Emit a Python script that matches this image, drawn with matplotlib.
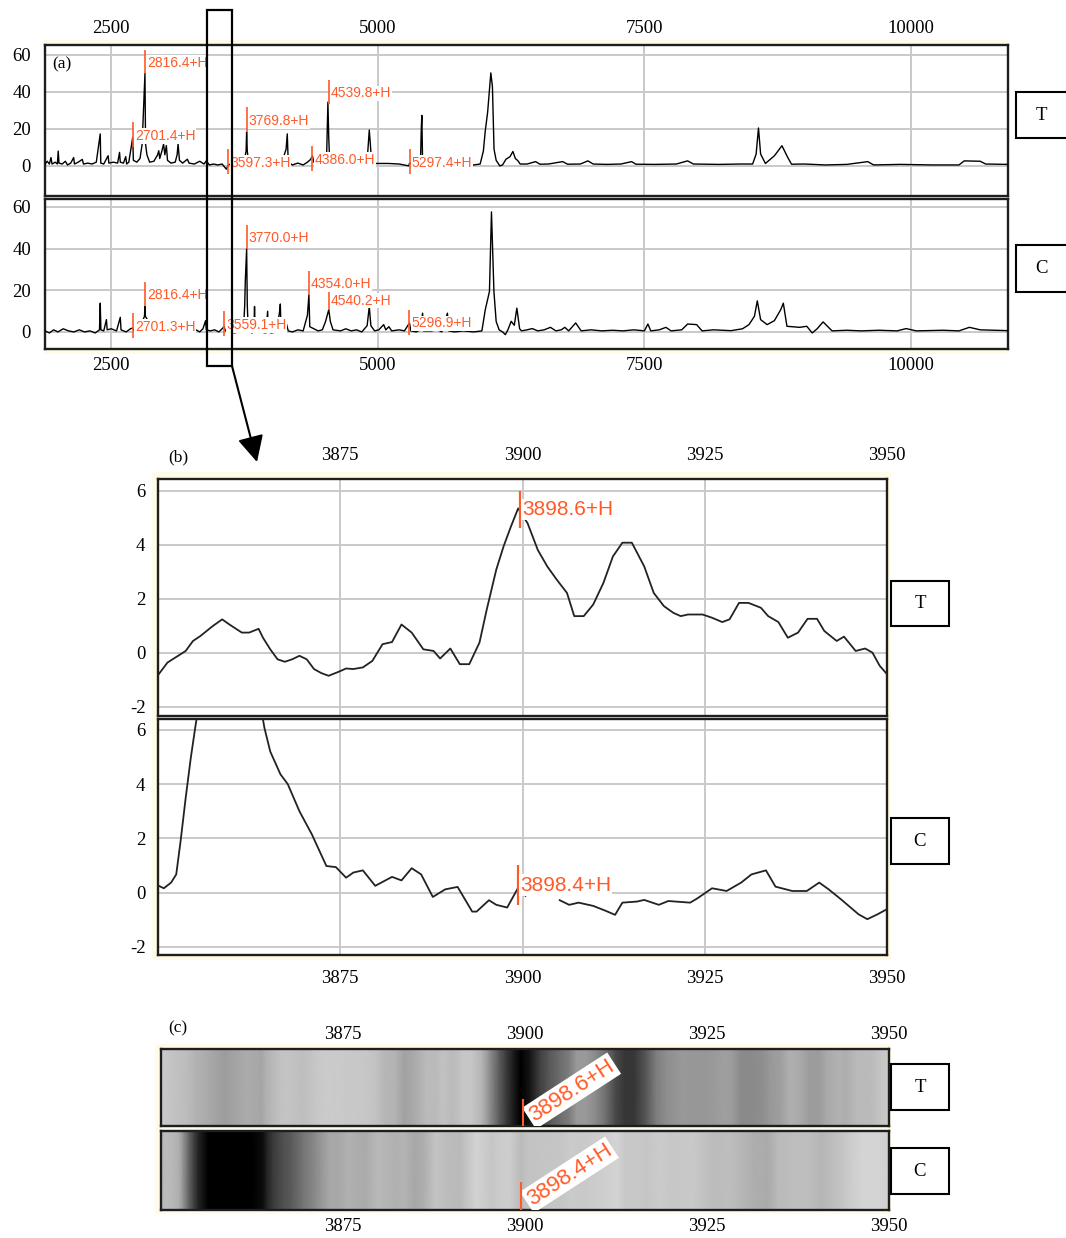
import numpy as np
import matplotlib
matplotlib.use("Agg")
import matplotlib.pyplot as plt
from matplotlib.patches import Rectangle
from matplotlib.colors import LinearSegmentedColormap, PowerNorm

# ---------------- data ----------------
# (a) full spectra, T and C
a_T_mz = [1879, 1900, 1920, 1935, 1945, 1975, 1995, 2003, 2010, 2040, 2070, 2090, 2120, 2148, 2155,
          2190, 2229, 2240, 2280, 2320, 2360, 2397, 2402, 2430, 2471, 2478, 2520, 2560, 2578, 2585,
          2615, 2636, 2645, 2665, 2701.4, 2708, 2740, 2770, 2790, 2812, 2816.4, 2822, 2835, 2860,
          2900, 2935, 2946, 2955, 2975, 2991, 3003, 3017, 3028, 3060, 3100, 3118, 3127, 3140, 3170,
          3214, 3230, 3280, 3330, 3370, 3392, 3420, 3460, 3500, 3540, 3580, 3597.3, 3620, 3660, 3700,
          3740, 3765, 3769.8, 3776, 3790, 3830, 3870, 3898.6, 3920, 3960, 4000, 4060, 4100, 4140,
          4151, 4160, 4200, 4250, 4300, 4340, 4370, 4386, 4400, 4450, 4500, 4520, 4532, 4540, 4548,
          4600, 4650, 4700, 4760, 4800, 4850, 4900, 4920, 4930, 4940, 4960, 5100, 5200, 5291, 5297.4,
          5320, 5360, 5400, 5408, 5413, 5420, 5480, 5550, 5650, 5750, 5900, 5960, 5990, 6008, 6030,
          6060, 6075, 6090, 6110, 6144, 6170, 6202, 6240, 6267, 6290, 6315, 6335, 6400, 6480, 6520,
          6600, 6733, 6780, 6900, 6970, 7020, 7150, 7280, 7380, 7420, 7600, 7800, 7905, 7960, 8200,
          8400, 8515, 8548, 8570, 8590, 8635, 8720, 8790, 8845, 8880, 9000, 9200, 9400, 9595, 9650,
          9900, 10200, 10450, 10500, 10650, 10700, 10910]
a_T_int = [1.0, 2.5, 1.0, 4.5, 1.0, 2.0, 1.0, 8.0, 1.5, 1.0, 2.5, 0.5, 1.5, 4.5, 1.0,
           2.0, 3.5, 1.0, 1.5, 1.0, 2.0, 17.3, 1.5, 1.0, 5.5, 1.5, 2.0, 1.5, 7.3, 2.0,
           1.5, 5.0, 1.0, 2.0, 15.4, 3.0, 2.0, 4.0, 11.8, 42.7, 50.0, 11.8, 6.0, 2.0,
           2.5, 6.0, 8.2, 4.0, 8.0, 11.8, 6.0, 11.0, 3.0, 1.5, 2.0, 6.0, 11.8, 3.0, 1.5,
           3.6, 1.5, 1.0, 2.5, 1.0, 2.7, 0.5, 1.0, 0.5, 1.0, -1.8, 0.5, 1.0, 0.5, 1.5,
           1.0, 8.0, 18.2, 8.0, 1.0, 1.5, 1.0, 5.3, 1.5, 1.0, 1.5, 1.0, 2.0, 9.0,
           17.3, 2.0, 0.5, 1.5, 0.5, 2.0, 3.5, 5.5, 2.0, 1.5, 4.0, 5.0, 34.5, 15.4, 3.0,
           2.5, 1.5, 2.0, 1.0, 1.5, 2.0, 2.5, 19.4, 12.0, 3.0, 1.3, 1.3, 1.0, 0.0, 1.5,
           1.0, 1.5, 2.0, 20.5, 27.3, 2.0, 1.0, 1.0, 0.5, 0.5, 0.5, 1.0, 8.0, 19.0, 29.0,
           50.3, 42.7, 9.0, 3.0, 0.0, 0.5, 3.6, 5.0, 7.8, 4.0, 2.7, 1.0, 1.0, 2.3, 0.9,
           1.0, 2.3, 0.9, 1.0, 2.7, 1.0, 0.8, 1.0, 2.3, 0.9, 0.8, 1.0, 2.7, 1.0, 0.8,
           1.0, 1.0, 6.4, 20.5, 6.4, 1.3, 5.5, 10.9, 4.5, 0.9, 1.0, 0.5, 0.8, 2.3, 0.5,
           0.8, 0.5, 0.5, 2.7, 2.5, 1.0, 0.8]

a_C_mz = [1879, 1920, 1960, 2000, 2050, 2100, 2150, 2200, 2250, 2300, 2350, 2390, 2397, 2403, 2430,
          2455, 2462, 2500, 2550, 2585, 2592, 2640, 2680, 2701.3, 2714, 2760, 2812, 2816, 2820,
          2900, 3000, 3100, 3200, 3295, 3330, 3360, 3385, 3392, 3430, 3470, 3510, 3540, 3559.1,
          3570, 3600, 3650, 3700, 3740, 3752, 3757, 3770.0, 3776, 3785, 3820, 3838, 3844, 3850,
          3900, 3950, 3967, 3972, 4000, 4050, 4080, 4086, 4092, 4141, 4160, 4200, 4250, 4300, 4340,
          4354.0, 4362, 4400, 4440, 4480, 4510, 4540.2, 4555, 4580, 4650, 4700, 4750, 4800, 4850,
          4900, 4920, 4935, 4970, 5010, 5055, 5075, 5104, 5130, 5200, 5250, 5296.9, 5310, 5360,
          5400, 5420, 5430, 5500, 5560, 5600, 5653, 5665, 5720, 5800, 5900, 5976, 6008, 6047, 6066,
          6089, 6110, 6138, 6170, 6196, 6220, 6251, 6280, 6304, 6330, 6348, 6400, 6449, 6500, 6560,
          6619, 6670, 6720, 6754, 6790, 6856, 6907, 7000, 7100, 7200, 7300, 7400, 7500, 7533, 7560,
          7640, 7702, 7750, 7850, 7906, 7990, 8041, 8150, 8312, 8420, 8481, 8532, 8559, 8590, 8651,
          8719, 8779, 8803, 8837, 8956, 9023, 9074, 9120, 9176, 9260, 9400, 9532, 9700, 9870, 9955,
          10050, 10300, 10450, 10548, 10650, 10913]
a_C_int = [0.5, -0.5, 1.0, 0.0, 1.5, 0.5, 0.0, 1.0, 0.0, 0.5, -0.5, 1.0, 13.8, 1.0, 0.5,
           5.9, 1.0, 1.5, 0.5, 7.0, 1.0, 0.0, 1.5, 1.9, 0.5, 1.0, 7.5, 12.2, 7.5,
           1.0, 0.5, 1.0, 0.5, 1.0, 0.0, 1.5, 5.4, 1.0, 0.5, 1.0, 0.0, 1.5, 2.5,
           0.5, 1.0, -0.5, 0.0, 0.5, 13.0, 23.8, 40.0, 13.0, 0.5, -0.5, 0.5, 12.2, 0.5,
           0.0, -0.5, 9.9, 0.0, -0.5, 0.0, 10.0, 13.4, 0.5, 4.3, 0.5, 0.0, 1.0, 0.5, 8.0,
           17.8, 2.5, 1.5, 0.5, 1.0, 5.0, 10.7, 5.0, 1.0, 0.5, 1.5, 0.5, 1.0, 0.0,
           3.0, 12.2, 3.0, 0.5, 1.0, 3.5, 1.0, 2.5, 0.5, 1.0, 0.5, 4.3, 0.5, 0.0,
           1.0, 9.0, 0.5, 0.5, 1.0, 0.0, 9.0, 0.5, 0.0, 0.5, 0.0, 0.5, 10.7, 19.4, 57.6,
           19.4, 5.0, 1.0, 0.0, -1.3, 1.0, 5.1, 3.2, 11.4, 1.5, 0.5, 1.0, 1.6, 0.5, 1.0,
           2.2, 0.5, 1.0, 2.2, 0.5, 4.3, 0.5, 1.0, 0.5, 0.8, 0.5, 1.0, 0.5, 3.8, 0.5,
           1.0, 2.2, 0.5, 1.0, 3.8, 3.5, 0.5, 1.0, 0.6, 1.5, 3.5, 7.5, 14.9, 5.9, 3.5,
           5.4, 10.7, 13.8, 2.7, 2.2, 2.7, -0.5, 1.5, 4.8, 0.5, 0.8, 0.5, 0.8, 0.5, 1.6,
           0.5, 0.8, 0.5, 2.2, 1.0, 0.6]

a_T_peaks = [2701.4, 2816.4, 3597.3, 3769.8, 4386.0, 4539.8, 5297.4]
a_T_peak_lo = [10.0, 50.0, -4.2, 18.2, -2.7, 33.6, -4.5]
a_T_peak_hi = [23.6, 62.7, 9.1, 31.8, 10.9, 46.3, 9.1]
a_C_peaks = [2701.3, 2816.4, 3559.1, 3770.0, 4354.0, 4540.2, 5296.9]
a_C_peak_lo = [-2.9, 12.2, -2.0, 40.0, 17.8, 10.7, -1.3]
a_C_peak_hi = [9.1, 24.2, 9.9, 51.5, 29.3, 20.2, 10.7]

# (b) zoom 3850-3950
b_T_mz = [3850.1, 3851.3, 3853.8, 3854.8, 3855.8, 3857.5, 3858.8, 3859.8, 3861.5, 3862.5, 3863.8,
          3864.4, 3865.4, 3866.4, 3867.4, 3868.4, 3869.4, 3870.4, 3871.4, 3872.4, 3873.4, 3874.8,
          3875.8, 3876.8, 3878.1, 3879.4, 3880.8, 3882.1, 3883.4, 3884.8, 3886.4, 3887.8, 3888.7,
          3890.1, 3891.4, 3892.7, 3894.1, 3895.1, 3896.4, 3897.4, 3898.4, 3899.4, 3900.7, 3902.1,
          3903.4, 3904.7, 3906.1, 3907.1, 3908.4, 3909.7, 3911.1, 3912.4, 3913.7, 3915.0, 3916.7,
          3918.0, 3919.4, 3920.7, 3921.7, 3922.7, 3924.7, 3926.0, 3927.4, 3928.4, 3929.7, 3931.0,
          3932.7, 3933.7, 3935.1, 3936.4, 3937.8, 3939.1, 3940.4, 3941.4, 3943.1, 3944.1, 3945.7,
          3947.0, 3948.0, 3949.0, 3950.0]
b_T_int = [-0.80, -0.37, 0.06, 0.43, 0.61, 0.98, 1.23, 1.04, 0.74, 0.74, 0.88,
           0.55, 0.12, -0.25, -0.34, -0.25, -0.12, -0.25, -0.61, -0.76, -0.86, -0.71,
           -0.59, -0.61, -0.55, -0.31, 0.31, 0.39, 1.04, 0.74, 0.12, 0.06, -0.22,
           0.15, -0.43, -0.43, 0.37, 1.60, 3.07, 3.93, 4.66, 5.34, 4.79, 3.80,
           3.19, 2.70, 2.21, 1.35, 1.35, 1.78, 2.58, 3.56, 4.07, 4.07, 3.19,
           2.21, 1.72, 1.47, 1.35, 1.41, 1.41, 1.29, 1.13, 1.23, 1.84, 1.84,
           1.66, 1.35, 1.13, 0.55, 0.74, 1.25, 1.25, 0.80, 0.43, 0.59, 0.06,
           0.15, 0.00, -0.49, -0.80]

b_C_mz = [3850.1, 3850.8, 3851.8, 3852.5, 3853.1, 3853.8, 3854.5, 3855.1, 3856.5, 3858.5, 3860.5,
          3862.5, 3864.0, 3864.6, 3865.4, 3866.8, 3867.8, 3869.4, 3871.1, 3873.1, 3874.4, 3875.8,
          3876.8, 3878.1, 3879.8, 3882.1, 3883.4, 3884.8, 3886.1, 3887.7, 3889.4, 3891.1, 3893.1,
          3893.7, 3895.4, 3896.4, 3897.9, 3899.4, 3900.4, 3902.5, 3905.1, 3906.4, 3907.7, 3909.7,
          3911.4, 3912.7, 3913.7, 3915.7, 3916.7, 3918.7, 3920.0, 3923.0, 3924.0, 3926.0, 3928.0,
          3930.0, 3931.4, 3933.4, 3934.7, 3937.0, 3939.0, 3940.7, 3942.0, 3943.7, 3946.1, 3947.3,
          3948.7, 3950.0]
b_C_int = [0.25, 0.16, 0.37, 0.67, 1.90, 3.50, 4.97, 6.07, 8.5, 10.5, 11.0,
           9.5, 7.0, 6.07, 5.20, 4.36, 4.00, 3.00, 2.15, 0.98, 0.94, 0.55,
           0.74, 0.82, 0.25, 0.58, 0.45, 0.90, 0.67, -0.16, 0.12, 0.21, -0.70,
           -0.70, -0.28, -0.45, -0.55, 0.18, -0.12, np.nan, -0.28, -0.45, -0.37, -0.49,
           -0.67, -0.82, -0.37, -0.33, -0.27, -0.45, -0.31, -0.37, -0.21, 0.16, 0.06,
           0.37, 0.67, 0.82, 0.22, 0.06, 0.06, 0.37, 0.12, -0.25, -0.80, -0.98,
           -0.80, -0.61]

# labelled peaks of (b)/(c): label value, where the marker is drawn, marker extent
b_T_peak, b_T_mark, b_T_peak_lo, b_T_peak_hi = 3898.6, 3899.7, 4.6, 6.0
b_C_peak, b_C_mark, b_C_peak_lo, b_C_peak_hi = 3898.4, 3899.4, -0.44, 1.0

a_xticks = [2500, 5000, 7500, 10000]
a_yticks = [0, 20, 40, 60]
b_xticks = [3875, 3900, 3925, 3950]
b_yticks = [-2, 0, 2, 4, 6]

# ---------------- style ----------------
W, H = 1066, 1238
SERIF = 'Liberation Serif'
SANS = 'Liberation Sans'
ORANGE = '#ff5a28'
GRID = '#c9c9c9'
CREAM = '#fffbe6'
SPINE = '#1e1e1e'
plt.rcParams['font.family'] = SERIF
plt.rcParams['axes.unicode_minus'] = False

fig = plt.figure(figsize=(W / 100, H / 100), dpi=100)


def rect(l, t, r, b):
    return [l / W, 1 - b / H, (r - l) / W, (b - t) / H]


# background (cream frames)
bg = fig.add_axes([0, 0, 1, 1], zorder=0)
bg.set_xlim(0, W)
bg.set_ylim(H, 0)
bg.axis('off')
for (l, t, r, b) in [(44, 40, 1009, 354), (152, 472, 891, 960), (155, 1044, 891, 1214)]:
    bg.add_patch(Rectangle((l, t), r - l, b - t, fc=CREAM, ec='none'))


def style_axes(ax, xlim, ylim, xticks, yticks, top, xpad, ypad, grid=True):
    ax.set_xlim(xlim)
    ax.set_ylim(ylim)
    ax.set_xticks(xticks)
    ax.set_yticks(yticks)
    if grid:
        ax.grid(True, color=GRID, lw=1.4)
        ax.set_axisbelow(True)
    for s in ax.spines.values():
        s.set_color(SPINE)
        s.set_linewidth(1.7)
    ax.tick_params(length=0, labelsize=13.5)
    ax.tick_params(axis='x', labeltop=top, labelbottom=not top, top=False, bottom=False, pad=xpad)
    ax.tick_params(axis='y', pad=ypad)


def peak_marks(ax, mz, marks, lo, hi, fs, lw, frac):
    ax.vlines(marks, lo, hi, color=ORANGE, lw=lw, zorder=4)
    for m, x, l, h in zip(mz, marks, lo, hi):
        ax.annotate(f"{m:.1f}+H", xy=(x, l + frac * (h - l)), xytext=(1.5, 0),
                    textcoords='offset points', ha='left', va='center', color=ORANGE,
                    fontsize=fs, family=SANS, zorder=5,
                    bbox=dict(boxstyle='square,pad=0.05', fc='white', ec='none'))


# ---------------- (a) ----------------
axaT = fig.add_axes(rect(45, 45, 1008, 196), zorder=1)
style_axes(axaT, (1879, 10910), (-16.3, 65.4), a_xticks, a_yticks, True, 6, 10)
axaT.plot(a_T_mz, a_T_int, color='black', lw=1.0, zorder=3)
peak_marks(axaT, a_T_peaks, a_T_peaks, a_T_peak_lo, a_T_peak_hi, 10, 1.2, 0.45)

axaC = fig.add_axes(rect(45, 199, 1008, 349), zorder=1)
style_axes(axaC, (1879, 10910), (-8.2, 63.8), a_xticks, a_yticks, False, 6, 10)
axaC.plot(a_C_mz, a_C_int, color='black', lw=1.0, zorder=3)
peak_marks(axaC, a_C_peaks, a_C_peaks, a_C_peak_lo, a_C_peak_hi, 10, 1.2, 0.45)

# ---------------- (b) ----------------
axbT = fig.add_axes(rect(158, 479, 887, 716), zorder=1)
style_axes(axbT, (3850, 3950), (-2.35, 6.43), b_xticks, b_yticks, True, 11, 9)
axbT.plot(b_T_mz, b_T_int, color='#222222', lw=1.3, zorder=3)
peak_marks(axbT, [b_T_peak], [b_T_mark], [b_T_peak_lo], [b_T_peak_hi], 15, 1.6, 0.5)

axbC = fig.add_axes(rect(158, 719, 887, 955), zorder=1)
style_axes(axbC, (3850, 3950), (-2.3, 6.4), b_xticks, b_yticks, False, 11, 9)
axbC.plot(b_C_mz, b_C_int, color='#222222', lw=1.3, zorder=3)
peak_marks(axbC, [b_C_peak], [b_C_mark], [b_C_peak_lo], [b_C_peak_hi], 15, 1.6, 0.5)

# ---------------- (c) gel view ----------------


def gel(ax, mz, vals, cmap, norm, mark, label, top, pad):
    mz = np.asarray(mz, float)
    vals = np.asarray(vals, float)
    ok = ~np.isnan(vals)
    ax.pcolormesh(mz[ok], [0, 1], np.vstack([vals[ok], vals[ok]]), shading='gouraud',
                  cmap=cmap, norm=norm, zorder=1)
    style_axes(ax, (3850, 3950), (0, 1), b_xticks, [], top, pad, 0, grid=False)
    ax.vlines(mark, 0, 0.35, color=ORANGE, lw=1.5, zorder=6)
    ax.text(mark + 1.9, 0.0, label, rotation=33, rotation_mode='anchor', ha='left',
            va='bottom', color=ORANGE, fontsize=16, family=SANS, zorder=5, clip_on=True,
            bbox=dict(boxstyle='square,pad=0.1', fc='white', ec='none'))


gel_T = LinearSegmentedColormap.from_list('gelT', [(0.80, 0.80, 0.80), (0, 0, 0)])
gel_C = LinearSegmentedColormap.from_list('gelC', [(0.83, 0.83, 0.83), (0, 0, 0)])

axcT = fig.add_axes(rect(161, 1049, 889, 1126), zorder=1)
gel(axcT, b_T_mz, b_T_int, gel_T, PowerNorm(1.4, vmin=-1.0, vmax=5.3), b_T_mark,
    f"{b_T_peak:.1f}+H", True, 4)
axcC = fig.add_axes(rect(161, 1131, 889, 1210), zorder=1)
gel(axcC, b_C_mz, b_C_int, gel_C, PowerNorm(1.0, vmin=-0.8, vmax=7.5), b_C_mark,
    f"{b_C_peak:.1f}+H", False, 6)

# ---------------- overlay: labels, boxes, zoom frame, arrow ----------------
ov = fig.add_axes([0, 0, 1, 1], zorder=5)
ov.set_xlim(0, W)
ov.set_ylim(H, 0)
ov.axis('off')
ov.patch.set_alpha(0)

for (x, y, t) in [(52, 64, '(a)'), (168, 457, '(b)'), (168, 1028, '(c)')]:
    ov.text(x, y, t, ha='left', va='center', fontsize=12.5)

for (l, t, r, b, s) in [(1016, 92, 1072, 138, 'T'), (1016, 245, 1072, 292, 'C'),
                        (891, 581, 949, 626, 'T'), (891, 818, 949, 864, 'C'),
                        (891, 1064, 949, 1110, 'T'), (891, 1148, 949, 1194, 'C')]:
    ov.add_patch(Rectangle((l, t), r - l, b - t, fc='white', ec='black', lw=1.5))
    ov.text(min(l + 29, 1041), (t + b) / 2, s, ha='center', va='center', fontsize=13.5)

ov.add_patch(Rectangle((207, 10), 25, 356, fill=False, ec='black', lw=1.6))
ov.annotate('', xy=(257, 462), xytext=(232, 366),
            arrowprops=dict(arrowstyle='-|>,head_length=0.8,head_width=0.4',
                            mutation_scale=20, lw=1.5, color='black',
                            shrinkA=0, shrinkB=0))

fig.savefig('out.png', dpi=100)
